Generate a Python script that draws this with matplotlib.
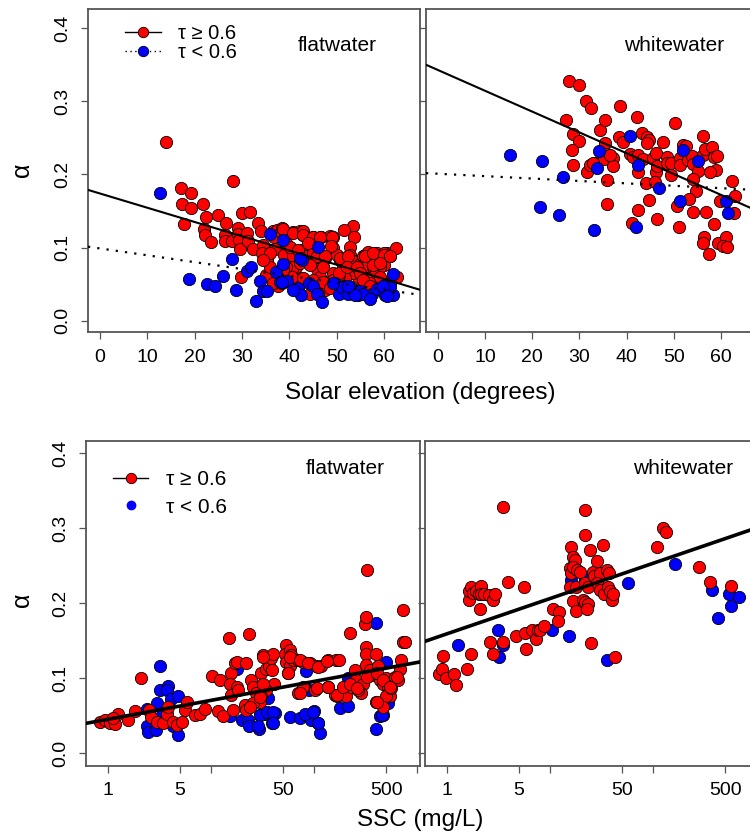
import numpy as np
import matplotlib
matplotlib.use("Agg")
import matplotlib.pyplot as plt
from matplotlib.lines import Line2D

plt.rcParams['font.family'] = ['Liberation Sans', 'DejaVu Sans']

# ---- top row: alpha vs solar elevation (degrees) ----
tl_red_x = [13.9, 28.2, 17.1, 19.2, 17.3, 19.2, 17.7, 21.8, 22.5, 22.0, 22.1, 23.4, 25.0, 26.6, 26.5,
            26.4, 28.0, 29.1, 29.2, 29.3, 29.6, 30.1, 31.7, 31.0, 31.2, 32.4, 29.7, 33.3, 34.1, 34.4,
            34.2, 35.2, 35.1, 36.5, 36.8, 37.0, 37.5, 38.5, 39.7, 40.8, 42.3, 42.9, 42.8, 44.0, 45.1,
            46.6, 48.6, 49.3, 53.5, 51.5, 53.7, 52.8, 35.9, 38.9, 39.4, 40.8, 41.5, 42.3, 43.7, 45.1,
            45.8, 46.5, 47.5, 49.3, 50.0, 50.7, 51.4, 52.8, 53.5, 54.9, 55.6, 56.3, 57.7, 58.5, 59.2,
            59.9, 60.6, 61.3, 62.5, 62.7, 57.7, 59.2, 58.1, 56.3, 54.6, 53.5, 51.8, 50.4, 49.3, 47.2,
            45.8, 47.5, 47.5, 46.1, 44.4, 42.6, 40.8, 38.7, 37.7, 36.6, 35.9, 34.5, 53.9, 55.3, 57.0,
            59.9, 61.3, 49.3, 51.8, 45.1, 46.5, 40.8, 39.4, 55.9, 56.7, 59.9,
            38.7, 40.8, 43.0, 43.0, 45.1, 46.5, 49.0, 48.8, 40.1, 41.9, 44.0, 45.8, 47.5, 50.7, 52.5,
            56.0, 57.7, 59.9, 61.3, 42.3, 44.4, 47.2, 50.4, 52.1, 54.2, 54.9, 57.7, 59.2, 39.4, 40.5,
            43.0, 45.1, 47.2, 48.6, 55.6, 57.0, 59.2, 38.7, 38.4]
tl_red_y = [0.245, 0.191, 0.182, 0.174, 0.160, 0.154, 0.132, 0.160, 0.142, 0.126, 0.117, 0.107, 0.144, 0.134, 0.117,
            0.109, 0.109, 0.127, 0.119, 0.110, 0.098, 0.147, 0.149, 0.120, 0.109, 0.098, 0.060, 0.134, 0.122, 0.104,
            0.092, 0.083, 0.062, 0.123, 0.114, 0.098, 0.124, 0.127, 0.119, 0.121, 0.122, 0.119, 0.117, 0.110, 0.114,
            0.115, 0.116, 0.115, 0.130, 0.124, 0.114, 0.101, 0.092, 0.090, 0.106, 0.088, 0.074, 0.097, 0.088, 0.092,
            0.081, 0.088, 0.085, 0.099, 0.090, 0.083, 0.076, 0.090, 0.081, 0.078, 0.088, 0.074, 0.083, 0.092, 0.088,
            0.076, 0.092, 0.088, 0.100, 0.059, 0.074, 0.074, 0.062, 0.058, 0.060, 0.065, 0.058, 0.062, 0.065, 0.074,
            0.070, 0.053, 0.042, 0.037, 0.037, 0.058, 0.074, 0.069, 0.047, 0.051, 0.074, 0.083, 0.040, 0.047, 0.051,
            0.053, 0.051, 0.056, 0.047, 0.053, 0.060, 0.056, 0.060, 0.090, 0.094, 0.092,
            0.126, 0.120, 0.122, 0.117, 0.114, 0.115, 0.115, 0.102, 0.101, 0.097, 0.106, 0.088, 0.088, 0.085, 0.088,
            0.089, 0.092, 0.090, 0.088, 0.079, 0.076, 0.074, 0.065, 0.074, 0.074, 0.065, 0.076, 0.079, 0.074, 0.060,
            0.058, 0.056, 0.053, 0.044, 0.056, 0.047, 0.060, 0.069, 0.051]
tl_blue_x = [12.7, 18.9, 22.7, 24.3, 25.9, 28.0, 28.7, 31.0, 32.0, 33.0, 33.9, 34.5, 35.4, 37.2, 38.0,
             38.7, 38.6, 35.9, 39.6, 41.8, 42.5, 42.6, 44.2, 45.1, 45.8, 46.0, 47.0, 49.6, 50.6, 51.1,
             52.5, 52.8, 54.6, 54.9, 57.0, 57.4, 58.5, 60.2, 60.9, 61.8, 61.3, 62.0, 59.7, 55.6, 53.9, 40.8,
             42.3, 38.4, 49.3, 52.5, 57.0, 60.6]
tl_blue_y = [0.175, 0.057, 0.050, 0.047, 0.061, 0.084, 0.042, 0.068, 0.074, 0.027, 0.054, 0.041, 0.041, 0.067, 0.053,
             0.077, 0.110, 0.119, 0.054, 0.045, 0.035, 0.083, 0.051, 0.047, 0.037, 0.101, 0.025, 0.052, 0.037, 0.046,
             0.037, 0.046, 0.035, 0.040, 0.031, 0.037, 0.043, 0.035, 0.035, 0.035, 0.046, 0.064, 0.047, 0.037, 0.035, 0.042,
             0.085, 0.053, 0.051, 0.047, 0.029, 0.034]

tr_red_x = [27.8, 29.8, 31.4, 32.4, 38.5, 27.2, 28.7, 30.0, 28.4, 28.6, 31.6, 32.3, 33.2, 34.4, 35.4,
            35.4, 35.9, 35.2, 37.1, 37.2, 35.9, 35.8, 38.3, 39.2, 42.1, 40.7, 41.4, 42.3, 42.3, 43.2,
            43.4, 44.4, 44.8, 44.3, 45.5, 46.2, 46.2, 46.5, 47.6, 48.5, 48.5, 49.3, 49.3, 50.2, 51.2,
            51.2, 51.9, 52.6, 52.9, 53.8, 54.0, 55.2, 54.0, 54.7, 56.1, 56.2, 56.6, 58.0, 58.4, 59.1,
            58.9, 57.7, 62.4, 62.9, 62.8, 59.8, 56.8, 54.1, 53.1, 50.6, 51.0, 46.5, 44.8, 44.0, 46.0,
            42.3, 41.1, 58.4, 56.4, 56.1, 57.5, 59.4, 61.0, 60.3, 61.2, 32.8, 36.5]
tr_red_y = [0.328, 0.322, 0.301, 0.291, 0.294, 0.275, 0.255, 0.246, 0.234, 0.213, 0.203, 0.213, 0.215, 0.261, 0.275,
            0.243, 0.228, 0.221, 0.222, 0.212, 0.192, 0.160, 0.251, 0.245, 0.278, 0.228, 0.224, 0.227, 0.204, 0.257,
            0.221, 0.251, 0.247, 0.243, 0.222, 0.229, 0.204, 0.212, 0.245, 0.224, 0.215, 0.215, 0.199, 0.271, 0.222,
            0.213, 0.240, 0.239, 0.220, 0.225, 0.214, 0.205, 0.194, 0.177, 0.253, 0.227, 0.235, 0.238, 0.224, 0.225,
            0.206, 0.203, 0.191, 0.170, 0.147, 0.163, 0.149, 0.148, 0.166, 0.157, 0.128, 0.139, 0.165, 0.188, 0.190,
            0.152, 0.134, 0.132, 0.114, 0.106, 0.091, 0.106, 0.114, 0.102, 0.101, 0.216, 0.226]
tr_blue_x = [15.3, 22.0, 26.5, 21.7, 25.7, 33.0, 34.2, 33.8, 40.6, 42.5, 42.0, 46.9, 51.3, 52.0, 55.2, 61.0, 61.5]
tr_blue_y = [0.226, 0.218, 0.196, 0.155, 0.144, 0.124, 0.232, 0.209, 0.253, 0.213, 0.128, 0.182, 0.164, 0.233, 0.218,
             0.164, 0.147]

# ---- bottom row: alpha vs SSC, SSC read as log10(mg/L) ----
bl_red_logssc = [-0.074, -0.026, 0.023, 0.071, 0.103, 0.055, 0.200, 0.264, 0.322, 0.403, 0.416, 0.474, 0.538, 0.571,
                 0.587, 0.635, 0.667, 0.716, 0.748, 0.764, 0.845, 0.893, 0.941, 1.015, 1.086, 1.070, 1.119, 1.177,
                 1.199, 1.231, 1.248, 1.183, 1.199, 1.248, 1.264, 1.215, 1.344, 1.370, 1.328, 1.344, 1.393, 1.409,
                 1.441, 1.473, 1.489, 1.505, 1.538, 1.564, 1.586, 1.602, 1.609, 1.538, 1.489, 1.409, 1.377, 1.731,
                 1.715, 1.763, 1.780, 1.731, 1.763, 1.747, 1.796, 1.844, 1.892, 1.957, 2.021, 2.070, 2.134, 2.215,
                 2.240, 1.844, 1.892, 2.005, 2.134, 2.199, 2.221, 2.279, 2.311, 2.344, 2.360, 2.392, 2.408, 2.440,
                 2.473, 2.489, 2.505, 2.515, 2.498, 2.505, 2.498, 2.537, 2.569, 2.595, 2.602, 2.618, 2.634, 2.666,
                 2.698, 2.715, 2.731, 2.698, 2.779, 2.811, 2.827, 2.844, 2.860, 2.860, 2.876, 2.747, 2.666, 2.456,
                 2.424,
                 1.767, 1.750, 1.863, 1.944, 2.041, 2.128, 1.863, 2.025, 2.138, 2.219, 2.283, 2.348, 2.413, 2.510,
                 2.607, 2.671, 2.736, 2.800, 2.607, 1.508, 1.589, 1.508, 1.476]
bl_red_y = [0.042, 0.044, 0.040, 0.039, 0.053, 0.047, 0.044, 0.056, 0.100, 0.058, 0.048, 0.042, 0.040, 0.053,
            0.062, 0.042, 0.038, 0.042, 0.058, 0.069, 0.051, 0.053, 0.059, 0.103, 0.098, 0.056, 0.050, 0.154,
            0.107, 0.120, 0.122, 0.092, 0.078, 0.089, 0.084, 0.058, 0.121, 0.159, 0.064, 0.058, 0.098, 0.089,
            0.080, 0.069, 0.107, 0.131, 0.113, 0.116, 0.127, 0.133, 0.093, 0.084, 0.076, 0.067, 0.062, 0.144,
            0.133, 0.138, 0.131, 0.122, 0.116, 0.107, 0.124, 0.125, 0.122, 0.120, 0.116, 0.116, 0.124, 0.125,
            0.125, 0.080, 0.089, 0.084, 0.089, 0.078, 0.076, 0.082, 0.076, 0.160, 0.089, 0.111, 0.098, 0.089,
            0.093, 0.173, 0.182, 0.245, 0.142, 0.133, 0.118, 0.111, 0.104, 0.133, 0.069, 0.116, 0.098, 0.093,
            0.100, 0.089, 0.076, 0.076, 0.102, 0.098, 0.113, 0.124, 0.191, 0.148, 0.149, 0.087, 0.062, 0.080,
            0.085,
            0.129, 0.107, 0.124, 0.120, 0.115, 0.123, 0.080, 0.087, 0.089, 0.078, 0.089, 0.093, 0.087, 0.102,
            0.107, 0.098, 0.089, 0.102, 0.069, 0.129, 0.111, 0.093, 0.075]
bl_blue_logssc = [0.506, 0.377, 0.377, 0.393, 0.467, 0.474, 0.506, 0.522, 0.580, 0.571, 0.613, 0.613, 0.635, 0.683,
                  0.683, 0.667, 1.183, 1.248, 1.306, 1.361, 1.370, 1.467, 1.473, 1.538, 1.554, 1.596, 1.618, 1.763,
                  1.860, 1.918, 1.918, 1.950, 1.973, 1.999, 2.037, 2.053, 2.247, 2.328, 2.328, 2.595, 2.595, 2.634,
                  2.666, 2.692, 2.715,
                  2.655, 1.476, 1.541, 1.605, 1.599, 1.912, 1.992, 2.041, 1.459]
bl_blue_y = [0.116, 0.059, 0.036, 0.029, 0.031, 0.067, 0.084, 0.051, 0.090, 0.084, 0.073, 0.040, 0.036, 0.076,
             0.024, 0.038, 0.050, 0.112, 0.045, 0.045, 0.036, 0.033, 0.051, 0.053, 0.074, 0.041, 0.054, 0.049,
             0.047, 0.110, 0.051, 0.084, 0.045, 0.056, 0.040, 0.027, 0.060, 0.063, 0.100, 0.174, 0.033, 0.050,
             0.051, 0.122, 0.067,
             0.051, 0.051, 0.055, 0.055, 0.041, 0.052, 0.055, 0.040, 0.036]

br_red_logssc = [-0.075, -0.049, -0.036, -0.003, 0.072, 0.088, 0.195, 0.238, 0.212, 0.218, 0.234, 0.257, 0.283,
                 0.309, 0.332, 0.332, 0.326, 0.365, 0.407, 0.446, 0.472, 0.420, 0.452, 0.544, 0.550, 0.592, 0.667,
                 0.749, 0.755, 0.771, 0.830, 0.863, 0.885, 0.908, 0.944, 1.032, 1.091, 1.081, 1.201, 1.195, 1.201,
                 1.227, 1.243, 1.221, 1.260, 1.292, 1.195, 1.253, 1.227, 1.250, 1.341, 1.341, 1.390, 1.318, 1.341,
                 1.373, 1.357, 1.341, 1.373, 1.400, 1.416, 1.423, 1.455, 1.488, 1.455, 1.488, 1.514, 1.520, 1.553,
                 1.569, 1.559, 1.585, 1.602, 1.611, 1.634, 2.034, 2.100, 2.122, 2.441, 2.555, 2.757]
br_red_y = [0.106, 0.113, 0.130, 0.101, 0.106, 0.091, 0.113, 0.132, 0.204, 0.216, 0.222, 0.214, 0.216,
            0.213, 0.223, 0.212, 0.192, 0.212, 0.211, 0.204, 0.213, 0.149, 0.133, 0.329, 0.149, 0.228, 0.156,
            0.222, 0.160, 0.139, 0.165, 0.152, 0.164, 0.164, 0.170, 0.192, 0.188, 0.177, 0.275, 0.247, 0.240,
            0.262, 0.258, 0.249, 0.245, 0.242, 0.222, 0.222, 0.203, 0.190, 0.324, 0.291, 0.271, 0.204, 0.202,
            0.199, 0.193, 0.227, 0.222, 0.147, 0.242, 0.236, 0.257, 0.240, 0.227, 0.218, 0.278, 0.213, 0.244,
            0.240, 0.222, 0.216, 0.204, 0.213, 0.128, 0.275, 0.301, 0.295, 0.249, 0.229, 0.223]
br_blue_logssc = [0.114, 0.495, 0.505, 0.544, 1.016, 1.185, 1.201, 1.341, 1.553, 1.755, 2.210, 2.568, 2.633,
                  2.731, 2.751, 2.829]
br_blue_y = [0.145, 0.164, 0.128, 0.144, 0.164, 0.156, 0.231, 0.232, 0.124, 0.227, 0.253, 0.218, 0.181,
             0.212, 0.196, 0.209]

# fitted lines: (intercept, slope)
tl_fit_hi = (0.174, -0.00195)
tl_fit_lo = (0.0988, -0.00094)
tr_fit_hi = (0.343, -0.00285)
tr_fit_lo = (0.201, -0.00033)
bl_fit = (0.0453, 0.0253)   # per log10 SSC
br_fit = (0.1592, 0.0471)

sol_ticks = [0, 10, 20, 30, 40, 50, 60]
ssc_ticks = [1, 5, 10, 50, 100, 500, 1000]
ssc_ticklabels = ["1", "5", "", "50", "", "500", ""]
alpha_ticks = [0.0, 0.1, 0.2, 0.3, 0.4]

W, H = 750, 839
fig = plt.figure(figsize=(W / 100, H / 100), dpi=100)


def add_ax(x0, y0, x1, y1):
    # pixel box -> figure fraction
    return fig.add_axes([x0 / W, 1 - y1 / H, (x1 - x0) / W, (y1 - y0) / H])


ax_tl = add_ax(88, 9.3, 420, 332.3)
ax_tr = add_ax(426, 9.3, 757, 332.3)
ax_bl = add_ax(86, 441, 420, 765.7)
ax_br = add_ax(425, 441, 759, 765.7)

spine_col = "#555555"
for ax in [ax_tl, ax_tr, ax_bl, ax_br]:
    for s in ax.spines.values():
        s.set_color(spine_col)
        s.set_linewidth(1.3)
    ax.tick_params(direction="out", length=5, width=0.9, color=spine_col,
                   labelsize=14, pad=7)
    ax.set_yticks(alpha_ticks)
    ax.minorticks_off()

pt = dict(s=78, edgecolors="black", linewidths=0.6)

# top panels
for ax, rx, ry, bx, by, hi, lo, name in [
        (ax_tl, tl_red_x, tl_red_y, tl_blue_x, tl_blue_y, tl_fit_hi, tl_fit_lo, "flatwater"),
        (ax_tr, tr_red_x, tr_red_y, tr_blue_x, tr_blue_y, tr_fit_hi, tr_fit_lo, "whitewater")]:
    ax.set_xlim(-2.5, 67.6)
    ax.set_ylim(-0.016, 0.426)
    ax.scatter(rx, ry, c="red", zorder=2, **pt)
    ax.scatter(bx, by, c="blue", zorder=2.5, **pt)
    xx = np.array(ax.get_xlim())
    ax.plot(xx, hi[0] + hi[1] * xx, color="black", lw=1.5, zorder=3)
    ax.plot(xx, lo[0] + lo[1] * xx, color="black", lw=1.6, ls=(0, (1, 3.2)), zorder=3)
    ax.set_xticks(sol_ticks)
    ax.text(0.75, 0.889, name, transform=ax.transAxes, ha="center", va="center", fontsize=15)

# bottom panels
for ax, rx, ry, bx, by, fit, name, tx in [
        (ax_bl, bl_red_logssc, bl_red_y, bl_blue_logssc, bl_blue_y, bl_fit, "flatwater", 0.775),
        (ax_br, br_red_logssc, br_red_y, br_blue_logssc, br_blue_y, br_fit, "whitewater", 0.772)]:
    ax.set_xscale("log")
    ax.set_xlim(0.617, 1060)
    ax.set_ylim(-0.0165, 0.4164)
    ax.scatter(10 ** np.array(rx), ry, c="red", zorder=2.5, **pt)
    ax.scatter(10 ** np.array(bx), by, c="blue", zorder=2, **pt)
    xx = np.logspace(np.log10(0.617), np.log10(1060), 50)
    ax.plot(xx, fit[0] + fit[1] * np.log10(xx), color="black", lw=2.6, zorder=3)
    ax.set_xticks(ssc_ticks)
    ax.set_xticklabels(ssc_ticklabels)
    ax.minorticks_off()
    ax.text(tx, 0.914, name, transform=ax.transAxes, ha="center", va="center", fontsize=15)

for ax in [ax_tl, ax_bl]:
    ax.set_yticklabels(["0.0", "0.1", "0.2", "0.3", "0.4"], rotation=90, va="center")
for ax in [ax_tr, ax_br]:
    ax.set_yticklabels([])

# legends
h_hi = Line2D([], [], color="black", lw=1.0, marker="o", ms=7.5, mfc="red", mec="black", mew=0.6)
h_lo = Line2D([], [], color="black", lw=1.0, ls=(0, (1, 2.5)), marker="o", ms=7.5, mfc="blue",
              mec="black", mew=0.6)
ax_tl.legend([h_hi, h_lo], ["τ ≥ 0.6", "τ < 0.6"], loc="upper left", bbox_to_anchor=(0.111, 0.955),
             frameon=False, fontsize=14.5, handlelength=1.8, handletextpad=0.85, labelspacing=0.02,
             borderpad=0, borderaxespad=0)
h_dot = Line2D([], [], ls="none", marker="o", ms=6, mfc="blue", mec="blue")
ax_bl.legend([h_hi, h_dot], ["τ ≥ 0.6", "τ < 0.6"], loc="upper left", bbox_to_anchor=(0.081, 0.91),
             frameon=False, fontsize=15, handlelength=1.7, handletextpad=0.85, labelspacing=0.4,
             borderpad=0, borderaxespad=0)

# axis labels
fig.text(22 / W, 1 - 170 / H, "α", rotation=90, ha="center", va="center", fontsize=18)
fig.text(22 / W, 1 - 600 / H, "α", rotation=90, ha="center", va="center", fontsize=18)
fig.text(420 / W, 1 - 393 / H, "Solar elevation (degrees)", ha="center", va="center", fontsize=17.5)
fig.text(420 / W, 1 - 820 / H, "SSC (mg/L)", ha="center", va="center", fontsize=17.5)

fig.savefig("out.png", dpi=100)
